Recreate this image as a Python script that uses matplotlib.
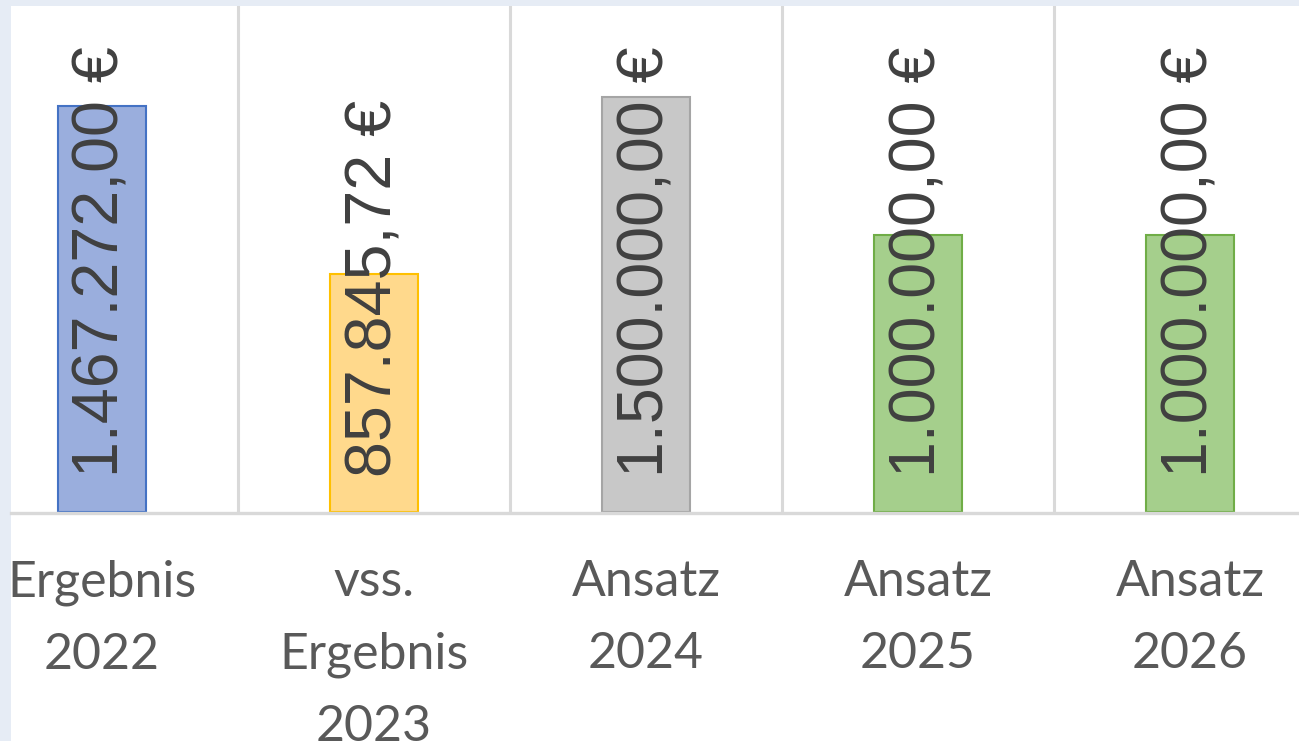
import matplotlib
matplotlib.use("Agg")
import matplotlib.pyplot as plt
from matplotlib.patches import Rectangle
from matplotlib.lines import Line2D

# Daten
categories = ["Ergebnis\n2022", "vss.\nErgebnis\n2023", "Ansatz\n2024", "Ansatz\n2025", "Ansatz\n2026"]
values = [1467272.00, 857845.72, 1500000.00, 1000000.00, 1000000.00]
fill_colors = ["#9AAEDD", "#FFD98C", "#C8C8C8", "#A5CF8C", "#A5CF8C"]
edge_colors = ["#4472C4", "#FFC000", "#A5A5A5", "#70AD47", "#70AD47"]


def euro(v):
    s = f"{v:,.2f}".replace(",", "X").replace(".", ",").replace("X", ".")
    return s + " €"


W, H = 1299, 741
fig = plt.figure(figsize=(W / 100, H / 100), dpi=100, facecolor="#E6ECF5")

# weisser Diagrammbereich (Rand links und oben bleibt hellblau)
bg = Rectangle((11 / W, 0), 1, (H - 6) / H, transform=fig.transFigure,
               facecolor="white", edgecolor="none", zorder=-5)
fig.patches.append(bg)

# Achse: 272 px pro Kategorie, erste Mitte bei x=102
left_px = 102 - 136
ax = fig.add_axes([left_px / W, (H - 512) / H, 1360 / W, 506 / H])
ax.set_facecolor("none")
ax.set_zorder(1)

px_per_euro = 0.277 / 1000
ax.set_xlim(-0.5, len(categories) - 0.5)
ax.set_ylim(0, 506 / px_per_euro)

x = list(range(len(categories)))
ax.bar(x, values, width=88 / 272, color=fill_colors, edgecolor=edge_colors,
       linewidth=1.5, zorder=2)

# Trennlinien
for i in range(len(categories) - 1):
    ax.axvline(i + 0.5, color="#D9D9D9", lw=2.2, zorder=1)

# Grundlinie (beginnt am Rand des weissen Bereichs)
fig.add_artist(Line2D([11 / W, 1], [(H - 513) / H] * 2, transform=fig.transFigure,
                      color="#D9D9D9", lw=2.4, zorder=3))

for s in ax.spines.values():
    s.set_visible(False)
ax.set_xticks([])
ax.set_yticks([])

# Datenbeschriftungen (gedreht, ab Balkenbasis)
for xi, v in zip(x, values):
    ax.annotate(euro(v), xy=(xi, 0), xytext=(0, 25), textcoords="offset points",
                rotation=90, ha="center", va="bottom", fontsize=46.5,
                family=["Liberation Sans", "DejaVu Sans"], color="#404040",
                zorder=4, annotation_clip=False)

# Kategorien
for xi, c in zip(x, categories):
    ax.annotate(c, xy=(xi, 0), xycoords="data", xytext=(0, -34), textcoords="offset points",
                ha="center", va="top", fontsize=36, family="Lato", color="#595959",
                linespacing=1.7, annotation_clip=False)

fig.savefig("out.png", dpi=100, facecolor=fig.get_facecolor())
